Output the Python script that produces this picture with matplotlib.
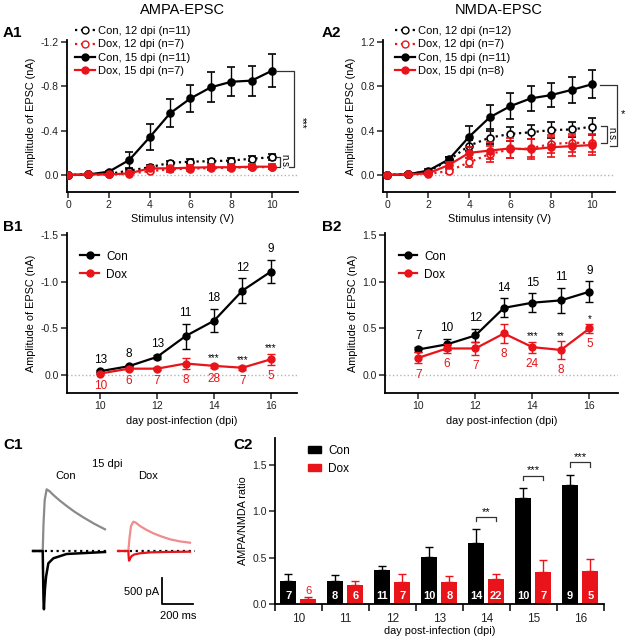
import matplotlib
matplotlib.use('Agg')
import matplotlib.pyplot as plt
from matplotlib.lines import Line2D
from matplotlib.patches import Patch

plt.rcParams['font.family'] = ['Liberation Sans', 'DejaVu Sans']
plt.rcParams['axes.unicode_minus'] = False

RED = '#e8141a'
PINK = '#f08c8c'
GRAY = '#8a8a8a'
ZERO = '#b5b5b5'

# %%
# A: input-output curves (stimulus intensity in V, amplitude in nA)
stim_v = [0, 1, 2, 3, 4, 5, 6, 7, 8, 9, 10]

ampa_con12 = [0, -0.005, -0.01, -0.04, -0.07, -0.11, -0.12, -0.125, -0.13, -0.147, -0.16]
ampa_con12_err = [0, 0.005, 0.005, 0.01, 0.02, 0.02, 0.02, 0.02, 0.02, 0.02, 0.025]
ampa_dox12 = [0, -0.005, -0.005, -0.01, -0.036, -0.05, -0.058, -0.062, -0.066, -0.07, -0.072]
ampa_dox12_err = [0, 0.005, 0.005, 0.005, 0.01, 0.02, 0.02, 0.02, 0.02, 0.02, 0.02]
ampa_con15 = [0, -0.005, -0.03, -0.135, -0.34, -0.556, -0.69, -0.79, -0.84, -0.85, -0.94]
ampa_con15_err = [0, 0.005, 0.01, 0.07, 0.115, 0.125, 0.125, 0.135, 0.13, 0.135, 0.15]
ampa_dox15 = [0, -0.005, -0.005, -0.015, -0.06, -0.06, -0.066, -0.07, -0.07, -0.075, -0.075]
ampa_dox15_err = [0, 0.005, 0.005, 0.01, 0.02, 0.025, 0.025, 0.025, 0.025, 0.025, 0.025]
ampa_labels = ['Con, 12 dpi (n=11)', 'Dox, 12 dpi (n=7)', 'Con, 15 dpi (n=11)', 'Dox, 15 dpi (n=7)']

nmda_con12 = [0, 0.01, 0.03, 0.135, 0.265, 0.337, 0.37, 0.385, 0.405, 0.41, 0.436]
nmda_con12_err = [0, 0.005, 0.01, 0.03, 0.05, 0.06, 0.06, 0.065, 0.07, 0.065, 0.075]
nmda_dox12 = [0, 0.006, 0.01, 0.036, 0.114, 0.19, 0.23, 0.24, 0.28, 0.29, 0.29]
nmda_dox12_err = [0, 0.005, 0.01, 0.02, 0.04, 0.07, 0.08, 0.08, 0.08, 0.08, 0.08]
nmda_con15 = [0, 0.006, 0.04, 0.14, 0.346, 0.52, 0.62, 0.69, 0.72, 0.767, 0.818]
nmda_con15_err = [0, 0.005, 0.01, 0.02, 0.095, 0.11, 0.117, 0.115, 0.11, 0.115, 0.128]
nmda_dox15 = [0, 0.006, 0.015, 0.09, 0.2, 0.22, 0.24, 0.23, 0.25, 0.26, 0.27]
nmda_dox15_err = [0, 0.005, 0.01, 0.03, 0.05, 0.08, 0.09, 0.09, 0.09, 0.09, 0.09]
nmda_labels = ['Con, 12 dpi (n=12)', 'Dox, 12 dpi (n=7)', 'Con, 15 dpi (n=11)', 'Dox, 15 dpi (n=8)']

# B: amplitude vs day post-infection
days = [10, 11, 12, 13, 14, 15, 16]

b1_con = [-0.043, -0.096, -0.196, -0.418, -0.582, -0.904, -1.107]
b1_con_err = [0.01, 0.015, 0.02, 0.134, 0.125, 0.13, 0.125]
b1_dox = [-0.018, -0.07, -0.07, -0.125, -0.10, -0.08, -0.17]
b1_dox_err = [0.01, 0.015, 0.015, 0.06, 0.02, 0.02, 0.06]
b1_con_n = [13, 8, 13, 11, 18, 12, 9]
b1_dox_n = [10, 6, 7, 8, 28, 7, 5]
b1_stars = ['', '', '', '', '***', '***', '***']

b2_con = [0.275, 0.33, 0.425, 0.72, 0.775, 0.80, 0.893]
b2_con_err = [0.03, 0.06, 0.07, 0.10, 0.10, 0.13, 0.11]
b2_dox = [0.186, 0.286, 0.286, 0.446, 0.30, 0.27, 0.50]
b2_dox_err = [0.06, 0.05, 0.065, 0.10, 0.06, 0.095, 0.045]
b2_con_n = [7, 10, 12, 14, 15, 11, 9]
b2_dox_n = [7, 6, 7, 8, 24, 8, 5]
b2_stars = ['', '', '', '', '***', '**', '*']

# C1: example traces (time in ms, current in pA)
con_nmda_t = [-64, 0, 5, 13, 26, 45, 70, 110, 158, 210, 268, 340, 411]
con_nmda_pa = [0, 0, 500, 955, 1155, 1120, 1049, 950, 843, 735, 630, 510, 406]
con_ampa_t = [-64, 0, 2, 5, 8, 11, 15, 22, 37, 70, 158, 411]
con_ampa_pa = [0, 0, -400, -900, -1092, -900, -700, -481, -231, -137, -56, -19]
dox_nmda_t = [-68, 0, 8, 18, 33, 50, 77, 120, 165, 220, 275, 340, 407]
dox_nmda_pa = [0, 0, 250, 470, 549, 530, 468, 395, 331, 270, 219, 180, 155]
dox_ampa_t = [-68, 0, 2, 4.6, 9, 15, 22, 40, 77, 150, 250, 407]
dox_ampa_pa = [0, 0, -100, -182, -160, -125, -94, -65, -43, -25, -18, -13]
DOX_SHIFT = 565

# C2: AMPA/NMDA ratio
ratio_con = [0.245, 0.252, 0.37, 0.51, 0.658, 1.14, 1.288]
ratio_con_err = [0.083, 0.062, 0.045, 0.11, 0.147, 0.115, 0.108]
ratio_dox = [0.05, 0.2, 0.237, 0.24, 0.273, 0.342, 0.36]
ratio_dox_err = [0.022, 0.045, 0.09, 0.065, 0.054, 0.13, 0.13]
ratio_con_n = [7, 8, 11, 10, 14, 10, 9]
ratio_dox_n = [6, 6, 7, 8, 22, 7, 5]
ratio_stars = ['', '', '', '', '**', '***', '***']

# %%
fig = plt.figure(figsize=(6.27, 6.4), dpi=100)


def px_axes(l, r, t, b):
    return fig.add_axes([l / 627, 1 - b / 640, (r - l) / 627, (b - t) / 640])


def style(ax):
    for s in ['top', 'right']:
        ax.spines[s].set_visible(False)
    for s in ['left', 'bottom']:
        ax.spines[s].set_linewidth(1.3)
    ax.tick_params(width=1.1, length=4, labelsize=7.5, pad=2, colors='#222222')


def series(ax, y, err, color, filled, dotted, z):
    ax.errorbar(stim_v, y, yerr=err, color=color, marker='o', ms=5,
                mfc=color if filled else 'white', mec=color, mew=1.2,
                ls=':' if dotted else '-', lw=1.6, elinewidth=1, capsize=3,
                capthick=1, zorder=z)


def io_legend(ax, labels, x0):
    hs = [Line2D([], [], color='k', ls=':', lw=1.6, marker='o', ms=5, mfc='white'),
          Line2D([], [], color=RED, ls=':', lw=1.6, marker='o', ms=5, mfc='white'),
          Line2D([], [], color='k', ls='-', lw=1.6, marker='o', ms=5),
          Line2D([], [], color=RED, ls='-', lw=1.6, marker='o', ms=5)]
    ax.legend(hs, labels, loc='upper left', bbox_to_anchor=(x0, 1.09), frameon=False,
              fontsize=8, handlelength=1.8, handletextpad=0.3, labelspacing=0.28,
              borderpad=0, borderaxespad=0)


def bracket(ax, x_v, x_start_top, x_start_bot, y_top, y_bot):
    ax.plot([x_start_top, x_v, x_v, x_start_bot], [y_top, y_top, y_bot, y_bot],
            color='#333333', lw=0.9, clip_on=False)


# A1
ax = px_axes(67, 298, 40, 192)
style(ax)
ax.axhline(0, color=ZERO, ls=':', lw=1, zorder=0)
series(ax, ampa_con12, ampa_con12_err, 'k', False, True, 3)
series(ax, ampa_dox12, ampa_dox12_err, RED, False, True, 4)
series(ax, ampa_con15, ampa_con15_err, 'k', True, False, 5)
series(ax, ampa_dox15, ampa_dox15_err, RED, True, False, 6)
ax.set_xlim(-0.05, 11.27)
ax.set_ylim(0.153, -1.216)
ax.set_yticks([-1.2, -0.8, -0.4, 0.0])
ax.set_yticklabels(['-1.2', '-0.8', '-0.4', '0.0'])
ax.set_xticks([0, 2, 4, 6, 8, 10])
ax.set_xlabel('Stimulus intensity (V)', fontsize=7.8, labelpad=3)
ax.set_ylabel('Amplitude of EPSC (nA)', fontsize=7.8, labelpad=3)
io_legend(ax, ampa_labels, 0.035)
bracket(ax, 11.08, 10.23, 10.85, -0.94, -0.075)
bracket(ax, 10.39, 10.2, 10.2, -0.165, -0.07)
ax.text(11.45, -0.47, '***', rotation=270, fontsize=7, ha='center', va='center', clip_on=False)
ax.text(10.6, -0.118, 'n.s.', rotation=270, fontsize=7, ha='center', va='center', clip_on=False)
ax.set_title('AMPA-EPSC', fontsize=10.5, pad=19)

# A2
ax = px_axes(383, 615, 40, 192)
style(ax)
ax.axhline(0, color=ZERO, ls=':', lw=1, zorder=0)
series(ax, nmda_con12, nmda_con12_err, 'k', False, True, 3)
series(ax, nmda_dox12, nmda_dox12_err, RED, False, True, 4)
series(ax, nmda_con15, nmda_con15_err, 'k', True, False, 5)
series(ax, nmda_dox15, nmda_dox15_err, RED, True, False, 6)
ax.set_xlim(-0.21, 11.11)
ax.set_ylim(-0.153, 1.216)
ax.set_yticks([0.0, 0.4, 0.8, 1.2])
ax.set_yticklabels(['0.0', '0.4', '0.8', '1.2'])
ax.set_xticks([0, 2, 4, 6, 8, 10])
ax.set_xlabel('Stimulus intensity (V)', fontsize=7.8, labelpad=3)
ax.set_ylabel('Amplitude of EPSC (nA)', fontsize=7.8, labelpad=3)
io_legend(ax, nmda_labels, 0.052)
bracket(ax, 11.19, 10.37, 10.87, 0.81, 0.26)
bracket(ax, 10.7, 10.45, 10.45, 0.44, 0.29)
ax.text(11.5, 0.55, '*', fontsize=8, ha='center', va='center', clip_on=False)
ax.text(10.92, 0.365, 'n.s.', rotation=270, fontsize=7, ha='center', va='center', clip_on=False)
ax.set_title('NMDA-EPSC', fontsize=10.5, pad=19)


# B panels
def day_panel(ax, con, con_err, dox, dox_err, con_n, dox_n, stars, sign):
    style(ax)
    ax.axhline(0, color=ZERO, ls=':', lw=1, zorder=0)
    ax.errorbar(days, con, yerr=con_err, color='k', marker='o', ms=5, lw=1.6,
                elinewidth=1, capsize=3, capthick=1, label='Con', zorder=4)
    ax.errorbar(days, dox, yerr=dox_err, color=RED, marker='o', ms=5, lw=1.6,
                elinewidth=1, capsize=3, capthick=1, label='Dox', zorder=5)
    for d, v, e, n in zip(days, con, con_err, con_n):
        ax.text(d, v + sign * (e + 0.115), str(n), fontsize=8.5, ha='center', va='center')
    for d, v, e, n in zip(days, dox, dox_err, dox_n):
        ax.text(d, v - sign * (e + 0.12), str(n), fontsize=8.5, ha='center', va='center',
                color=RED)
    for d, v, e, s in zip(days, dox, dox_err, stars):
        if s:
            ax.text(d, v + sign * (e + 0.005), s, fontsize=7, ha='center', va='bottom')
    ax.set_xticks([10, 12, 14, 16])
    ax.set_xlabel('day post-infection (dpi)', fontsize=7.8, labelpad=3)
    ax.set_ylabel('Amplitude of EPSC (nA)', fontsize=7.8, labelpad=3)
    hs = [Line2D([], [], color='k', marker='o', ms=5, lw=1.6),
          Line2D([], [], color=RED, marker='o', ms=5, lw=1.6)]
    ax.legend(hs, ['Con', 'Dox'], loc='upper left', bbox_to_anchor=(0.058, 0.89),
              frameon=False, fontsize=8.5, handlelength=1.6, handletextpad=0.6,
              labelspacing=0.5, borderpad=0, borderaxespad=0)


ax = px_axes(67, 297, 233, 393)
day_panel(ax, b1_con, b1_con_err, b1_dox, b1_dox_err, b1_con_n, b1_dox_n, b1_stars, -1)
ax.set_xlim(8.83, 16.92)
ax.set_ylim(0.19, -1.52)
ax.set_yticks([-1.5, -1.0, -0.5, 0.0])
ax.set_yticklabels(['-1.5', '-1.0', '-0.5', '0.0'])

ax = px_axes(385, 618, 233, 393)
day_panel(ax, b2_con, b2_con_err, b2_dox, b2_dox_err, b2_con_n, b2_dox_n, b2_stars, 1)
ax.set_xlim(8.83, 17.0)
ax.set_ylim(-0.19, 1.52)
ax.set_yticks([0.0, 0.5, 1.0, 1.5])
ax.set_yticklabels(['0.0', '0.5', '1.0', '1.5'])

# C1 traces
ax = px_axes(0, 210, 440, 630)
ax.axis('off')
ax.set_xlim(-282, 1104)
ax.set_ylim(-1480, 2079)
ax.plot([con_nmda_t[0], 418], [0, 0], color='k', ls=':', lw=1.6, zorder=1)
ax.plot([DOX_SHIFT + dox_nmda_t[0], DOX_SHIFT + 439], [0, 0], color='k', ls=':', lw=1.6, zorder=1)
ax.plot(con_nmda_t, con_nmda_pa, color=GRAY, lw=1.6, zorder=2)
ax.plot(con_ampa_t, con_ampa_pa, color='k', lw=1.8, zorder=3)
ax.plot([t + DOX_SHIFT for t in dox_nmda_t], dox_nmda_pa, color=PINK, lw=1.6, zorder=2)
ax.plot([t + DOX_SHIFT for t in dox_ampa_t], dox_ampa_pa, color=RED, lw=1.6, zorder=3)
ax.plot([789, 789, 989], [-500, -1000, -1000], color='k', lw=1.3)
ax.text(770, -760, '500 pA', fontsize=8, ha='right', va='center')
ax.text(893, -1120, '200 ms', fontsize=8, ha='center', va='top')
ax.text(424, 1630, '15 dpi', fontsize=8, ha='center', va='center')
ax.text(152, 1405, 'Con', fontsize=8, ha='center', va='center')
ax.text(695, 1405, 'Dox', fontsize=8, ha='center', va='center')

# C2 bars
ax = px_axes(275, 604, 438, 604)
style(ax)
pos = list(range(len(days)))
con_x = [p - 0.22 for p in pos]
dox_x = [p + 0.21 for p in pos]
ax.bar(con_x, ratio_con, width=0.34, color='k', label='Con', zorder=2)
ax.bar(dox_x, ratio_dox, width=0.34, color=RED, label='Dox', zorder=2)
ax.errorbar(con_x, ratio_con, yerr=[[0] * 7, ratio_con_err], fmt='none', ecolor='k',
            elinewidth=1, capsize=3, capthick=1, zorder=1)
ax.errorbar(dox_x, ratio_dox, yerr=[[0] * 7, ratio_dox_err], fmt='none', ecolor=RED,
            elinewidth=1, capsize=3, capthick=1, zorder=1)
for x, n in zip(con_x, ratio_con_n):
    ax.text(x, 0.083, str(n), color='white', fontsize=8, fontweight='bold',
            ha='center', va='center', zorder=3)
for x, v, e, n in zip(dox_x, ratio_dox, ratio_dox_err, ratio_dox_n):
    if v > 0.15:
        ax.text(x, 0.083, str(n), color='white', fontsize=8, fontweight='bold',
                ha='center', va='center', zorder=3)
    else:
        ax.text(x, v + e + 0.07, str(n), color=RED, fontsize=8, ha='center', va='center')
for p, cx, dx, v, e, s in zip(pos, con_x, dox_x, ratio_con, ratio_con_err, ratio_stars):
    if s:
        y = v + e + 0.13
        ax.plot([cx, cx, dx, dx], [y - 0.045, y, y, y - 0.045], color='#333333', lw=0.9)
        ax.text(p, y + 0.005, s, fontsize=8, ha='center', va='bottom')
ax.set_xlim(-0.5, 6.5)
ax.set_ylim(0, 1.79)
ax.set_yticks([0.0, 0.5, 1.0, 1.5])
ax.set_yticklabels(['0.0', '0.5', '1.0', '1.5'])
ax.set_xticks(pos)
ax.set_xticklabels([str(d) for d in days])
ax.set_xticks([p - 0.5 for p in pos] + [6.5], minor=True)
ax.tick_params(axis='x', which='major', length=0, pad=6.5, labelsize=8.5)
ax.tick_params(axis='x', which='minor', length=5, width=1.1)
ax.set_xlabel('day post-infection (dpi)', fontsize=7.8, labelpad=1)
ax.set_ylabel('AMPA/NMDA ratio', fontsize=7.8, labelpad=3)
hs = [Patch(color='k'), Patch(color=RED)]
ax.legend(hs, ['Con', 'Dox'], loc='upper left', bbox_to_anchor=(0.1, 0.96), frameon=False,
          fontsize=8.5, handlelength=1.1, handleheight=0.6, handletextpad=0.6,
          labelspacing=0.5, borderpad=0, borderaxespad=0)

# panel labels
for lab, x, y in [('A1', 3, 33), ('A2', 322, 33), ('B1', 3, 227), ('B2', 322, 227),
                  ('C1', 3, 445), ('C2', 233, 445)]:
    fig.text(x / 627, 1 - y / 640, lab, fontsize=11, fontweight='bold', ha='left', va='center')

fig.savefig('out.png', dpi=100)
